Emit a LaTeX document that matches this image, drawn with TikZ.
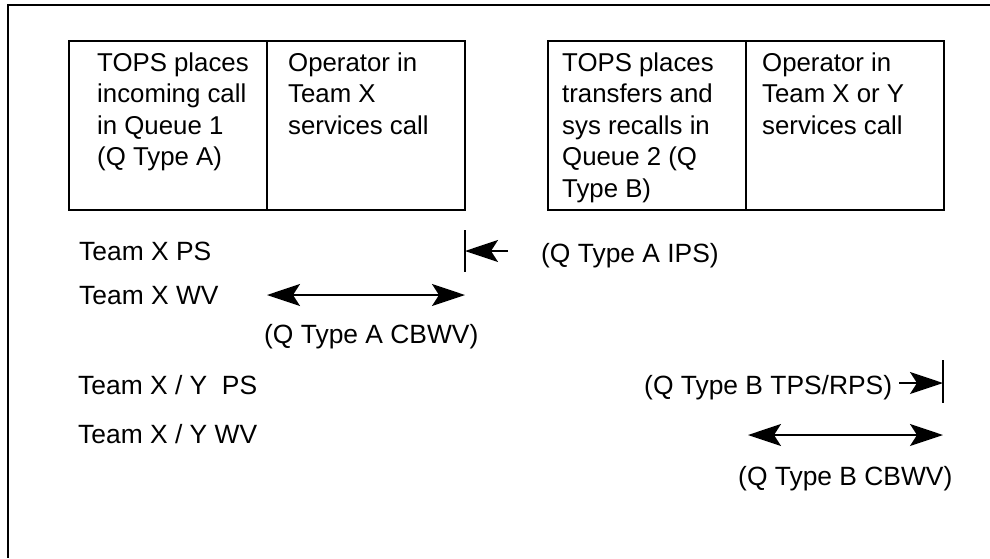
\documentclass[tikz,border=0pt]{standalone}
\usepackage{fontspec}
\setmainfont{Liberation Sans}
\usetikzlibrary{arrows.meta}
\begin{document}
\begin{tikzpicture}[x=1pt,y=-1pt,
  cell/.style={draw, line width=2pt, minimum width=198pt, minimum height=169pt, inner sep=0pt},
  celltext/.style={anchor=base west, inner sep=0pt, font=\fontsize{25.8}{31.6}\selectfont},
  lbl/.style={anchor=base west, inner sep=0pt, font=\fontsize{26.4}{30}\selectfont},
  bar/.style={line width=2pt},
  arr/.style={line width=2pt, -{Stealth[length=33pt,width=22pt,inset=7pt]}},
  darr/.style={line width=2pt, {Stealth[length=33pt,width=22pt,inset=7pt]}-{Stealth[length=33pt,width=22pt,inset=7pt]}},
]
\useasboundingbox (0,0) rectangle (990,558);
% outer frame
\coordinate (fr1) at (990,5);
\coordinate (fr2) at (8,5);
\coordinate (fr3) at (8,558);
\draw[line width=2pt] (fr1) -- (fr2) -- (fr3);
% boxes
\node[cell] (a1) at (168,125.5) {};
\node[cell] (a2) at (366,125.5) {};
\node[cell] (b1) at (647,125.5) {};
\node[cell] (b2) at (844.5,125.5) {};
\node[celltext] (ta1) at (97,71) {\parbox[t]{170pt}{\raggedright TOPS places\\incoming call\\in Queue 1\\(Q Type A)}};
\node[celltext] (ta2) at (288,71) {\parbox[t]{170pt}{\raggedright Operator in\\Team X\\services call}};
\node[celltext] (tb1) at (562,71) {\parbox[t]{170pt}{\raggedright TOPS places\\transfers and\\sys recalls in\\Queue 2 (Q\\Type B)}};
\node[celltext] (tb2) at (762,71) {\parbox[t]{170pt}{\raggedright Operator in\\Team X or Y\\services call}};
% labels
\node[lbl] (l1) at (79,260) {Team X PS};
\node[lbl] (l2) at (79,304) {Team X WV};
\node[lbl] (l3) at (264,343) {(Q Type A CBWV)};
\node[lbl] (l4) at (78,394) {Team X / Y~ PS};
\node[lbl] (l5) at (78,443) {Team X / Y WV};
\node[lbl] (l6) at (541,262) {(Q Type A IPS)};
\node[lbl] (l7) at (644,394) {(Q Type B TPS/RPS)};
\node[lbl] (l8) at (738,485) {(Q Type B CBWV)};
% IPS marker
\coordinate (bar1t) at (465,230);
\coordinate (bar1b) at (465,272);
\coordinate (bar1m) at (465,251);
\coordinate (ips) at (508,251);
\draw[bar] (bar1t) -- (bar1b);
\draw[arr] (ips) -- (bar1m);
% CBWV A
\coordinate (wa1) at (267,295);
\coordinate (wa2) at (465,295);
\draw[darr] (wa1) -- (wa2);
% TPS marker
\coordinate (bar2t) at (943,360);
\coordinate (bar2b) at (943,403);
\coordinate (bar2m) at (943,383);
\coordinate (tps) at (899,383);
\draw[bar] (bar2t) -- (bar2b);
\draw[arr] (tps) -- (bar2m);
% CBWV B
\coordinate (wb1) at (748,435);
\coordinate (wb2) at (943,435);
\draw[darr] (wb1) -- (wb2);
\end{tikzpicture}
\end{document}
